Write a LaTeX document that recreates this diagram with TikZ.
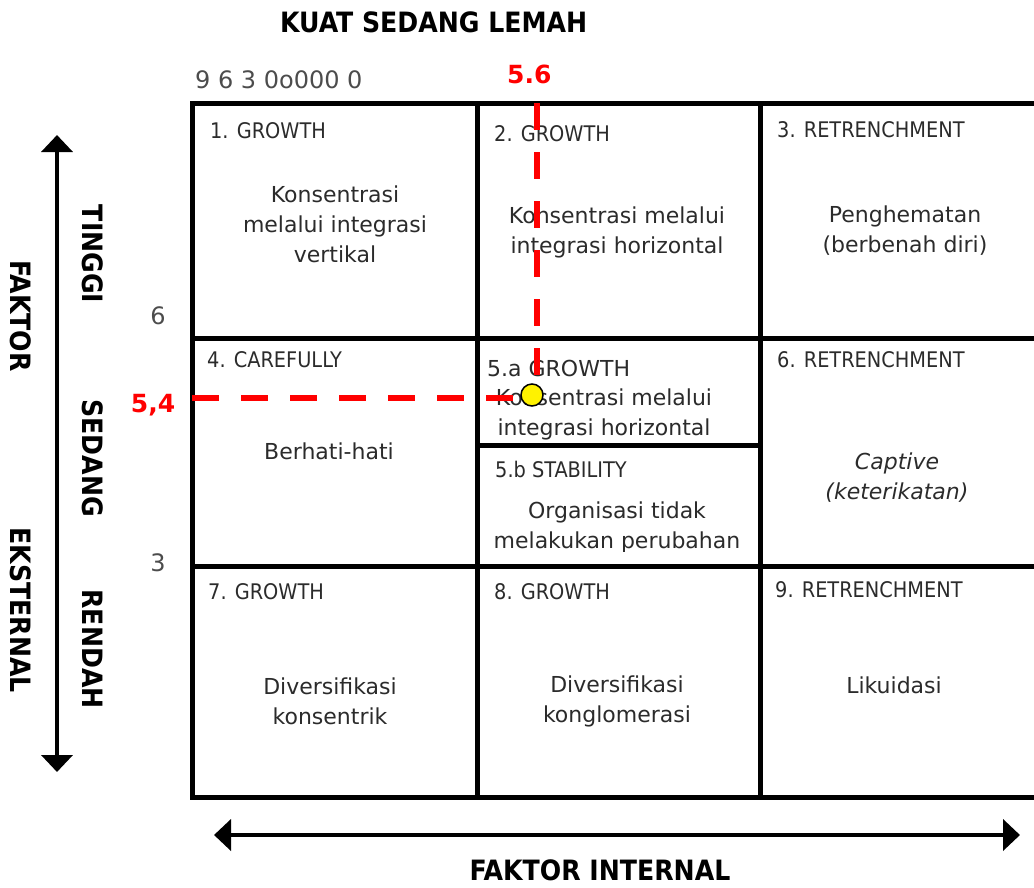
\documentclass[tikz,border=0pt]{standalone}
\usepackage{fontspec}
\setmainfont{DejaVu Sans}
\newfontfamily\condfont{DejaVu Sans Condensed}
\usetikzlibrary{arrows.meta}

\definecolor{inkgray}{HTML}{2B2B2B}
\tikzset{
  gridline/.style={line width=5pt, black},
  tag/.style={anchor=base west, inner sep=0pt, text=inkgray,
    font=\condfont\fontsize{21.5}{25}\selectfont},
  body/.style={align=center, inner sep=0pt, text=inkgray,
    font=\fontsize{22}{30}\selectfont},
  axis/.style={inner sep=0pt, font=\condfont\bfseries\fontsize{28}{30}\selectfont},
  tick/.style={inner sep=0pt, text=black!70, font=\fontsize{24}{28}\selectfont},
  redval/.style={inner sep=0pt, red, font=\bfseries\fontsize{25}{28}\selectfont},
  reddash/.style={red, line width=6pt, dash pattern=on 27pt off 22pt},
  both/.style={line width=4pt,
    {Triangle[width=31pt,length=17pt]}-{Triangle[width=31pt,length=17pt]}}
}

\begin{document}
\begin{tikzpicture}[x=1pt,y=-1pt]
	\useasboundingbox (0,0) rectangle (1034,887);

	% matrix
	\draw[gridline] (1034,103) -- (192,103) -- (192,797) -- (1034,797);
	\draw[gridline] (477,103) -- (477,797);
	\draw[gridline] (760,103) -- (760,797);
	\draw[gridline] (192,338) -- (1034,338);
	\draw[gridline] (192,566) -- (1034,566);
	\draw[gridline] (477,445) -- (760,445);

	% cell titles
	\foreach \n/\x/\y/\t in {t1/210/138/1. GROWTH, t2/494/141/2. GROWTH,
		t3/777/137/3. RETRENCHMENT, t4/207/367/4. CAREFULLY,
		t6/777/367/6. RETRENCHMENT, t5b/495/477/5.b STABILITY,
		t7/208/599/7. GROWTH, t8/494/599/8. GROWTH, t9/775/597/9. RETRENCHMENT}{
		\node[tag] (\n) at (\x,\y) {\t};
	};
	\node[tag, font=\fontsize{22}{26}\selectfont] (t5a) at (487,376) {5.a GROWTH};

	% cell texts
	\node[body] (b1) at (335,224) {Konsentrasi\\melalui integrasi\\vertikal};
	\node[body] (b2) at (617,232) {Konsentrasi melalui\\integrasi horizontal};
	\node[body] (b3) at (905,231) {Penghematan\\(berbenah diri)};
	\node[body] (b4) at (329,451) {Berhati-hati};
	\node[body] (b5a) at (604,414) {Konsentrasi melalui\\integrasi horizontal};
	\begin{scope}
		\clip (477,445) rectangle (760,551);
		\node[body] (b5b) at (617,527) {Organisasi tidak\\melakukan perubahan};
	\end{scope}
	\node[body, font=\itshape\fontsize{22}{30}\selectfont] (b6) at (897,478) {Captive\\(keterikatan)};
	\node[body] (b7) at (330,701) {Diversifikasi\\konsentrik};
	\node[body] (b8) at (617,701) {Diversifikasi\\konglomerasi};
	\node[body] (b9) at (894,685) {Likuidasi};

	% position
	\node[circle, draw=black, line width=1.5pt, fill=yellow, minimum size=22pt,
		inner sep=0pt] (dot) at (532,395) {};
	\coordinate (xtop) at (537,103);
	\coordinate (yleft) at (192,398);
	\draw[reddash] (xtop) -- (xtop |- dot.north);
	\draw[reddash] (yleft) -- (yleft -| dot.west);
	\node[redval, anchor=base west] (xval) at (507,83) {5.6};
	\node[redval] (yval) at (153,405) {5,4};

	% axes
	\node[axis, anchor=base west] (top) at (280,32) {KUAT SEDANG LEMAH};
	\node[tick, anchor=base west] (scale) at (195,88) {9 6 3 0o000 0};
	\node[tick] (six) at (158,316) {6};
	\node[tick] (three) at (158,563) {3};

	\coordinate (vtop) at (57,135);
	\coordinate (vbot) at (57,772);
	\draw[both] (vtop) -- (vbot);
	\node[axis, rotate=-90] (hi) at (93,254) {TINGGI};
	\node[axis, rotate=-90] (mid) at (93,458) {SEDANG};
	\node[axis, rotate=-90] (lo) at (93,649) {RENDAH};
	\node[axis, rotate=-90] (fe1) at (21,316) {FAKTOR};
	\node[axis, rotate=-90] (fe2) at (21,610) {EKSTERNAL};

	\coordinate (hleft) at (214,835);
	\coordinate (hright) at (1020,835);
	\draw[both] (hleft) -- (hright);
	\node[axis] (fi) at (600,870) {FAKTOR INTERNAL};
\end{tikzpicture}
\end{document}
